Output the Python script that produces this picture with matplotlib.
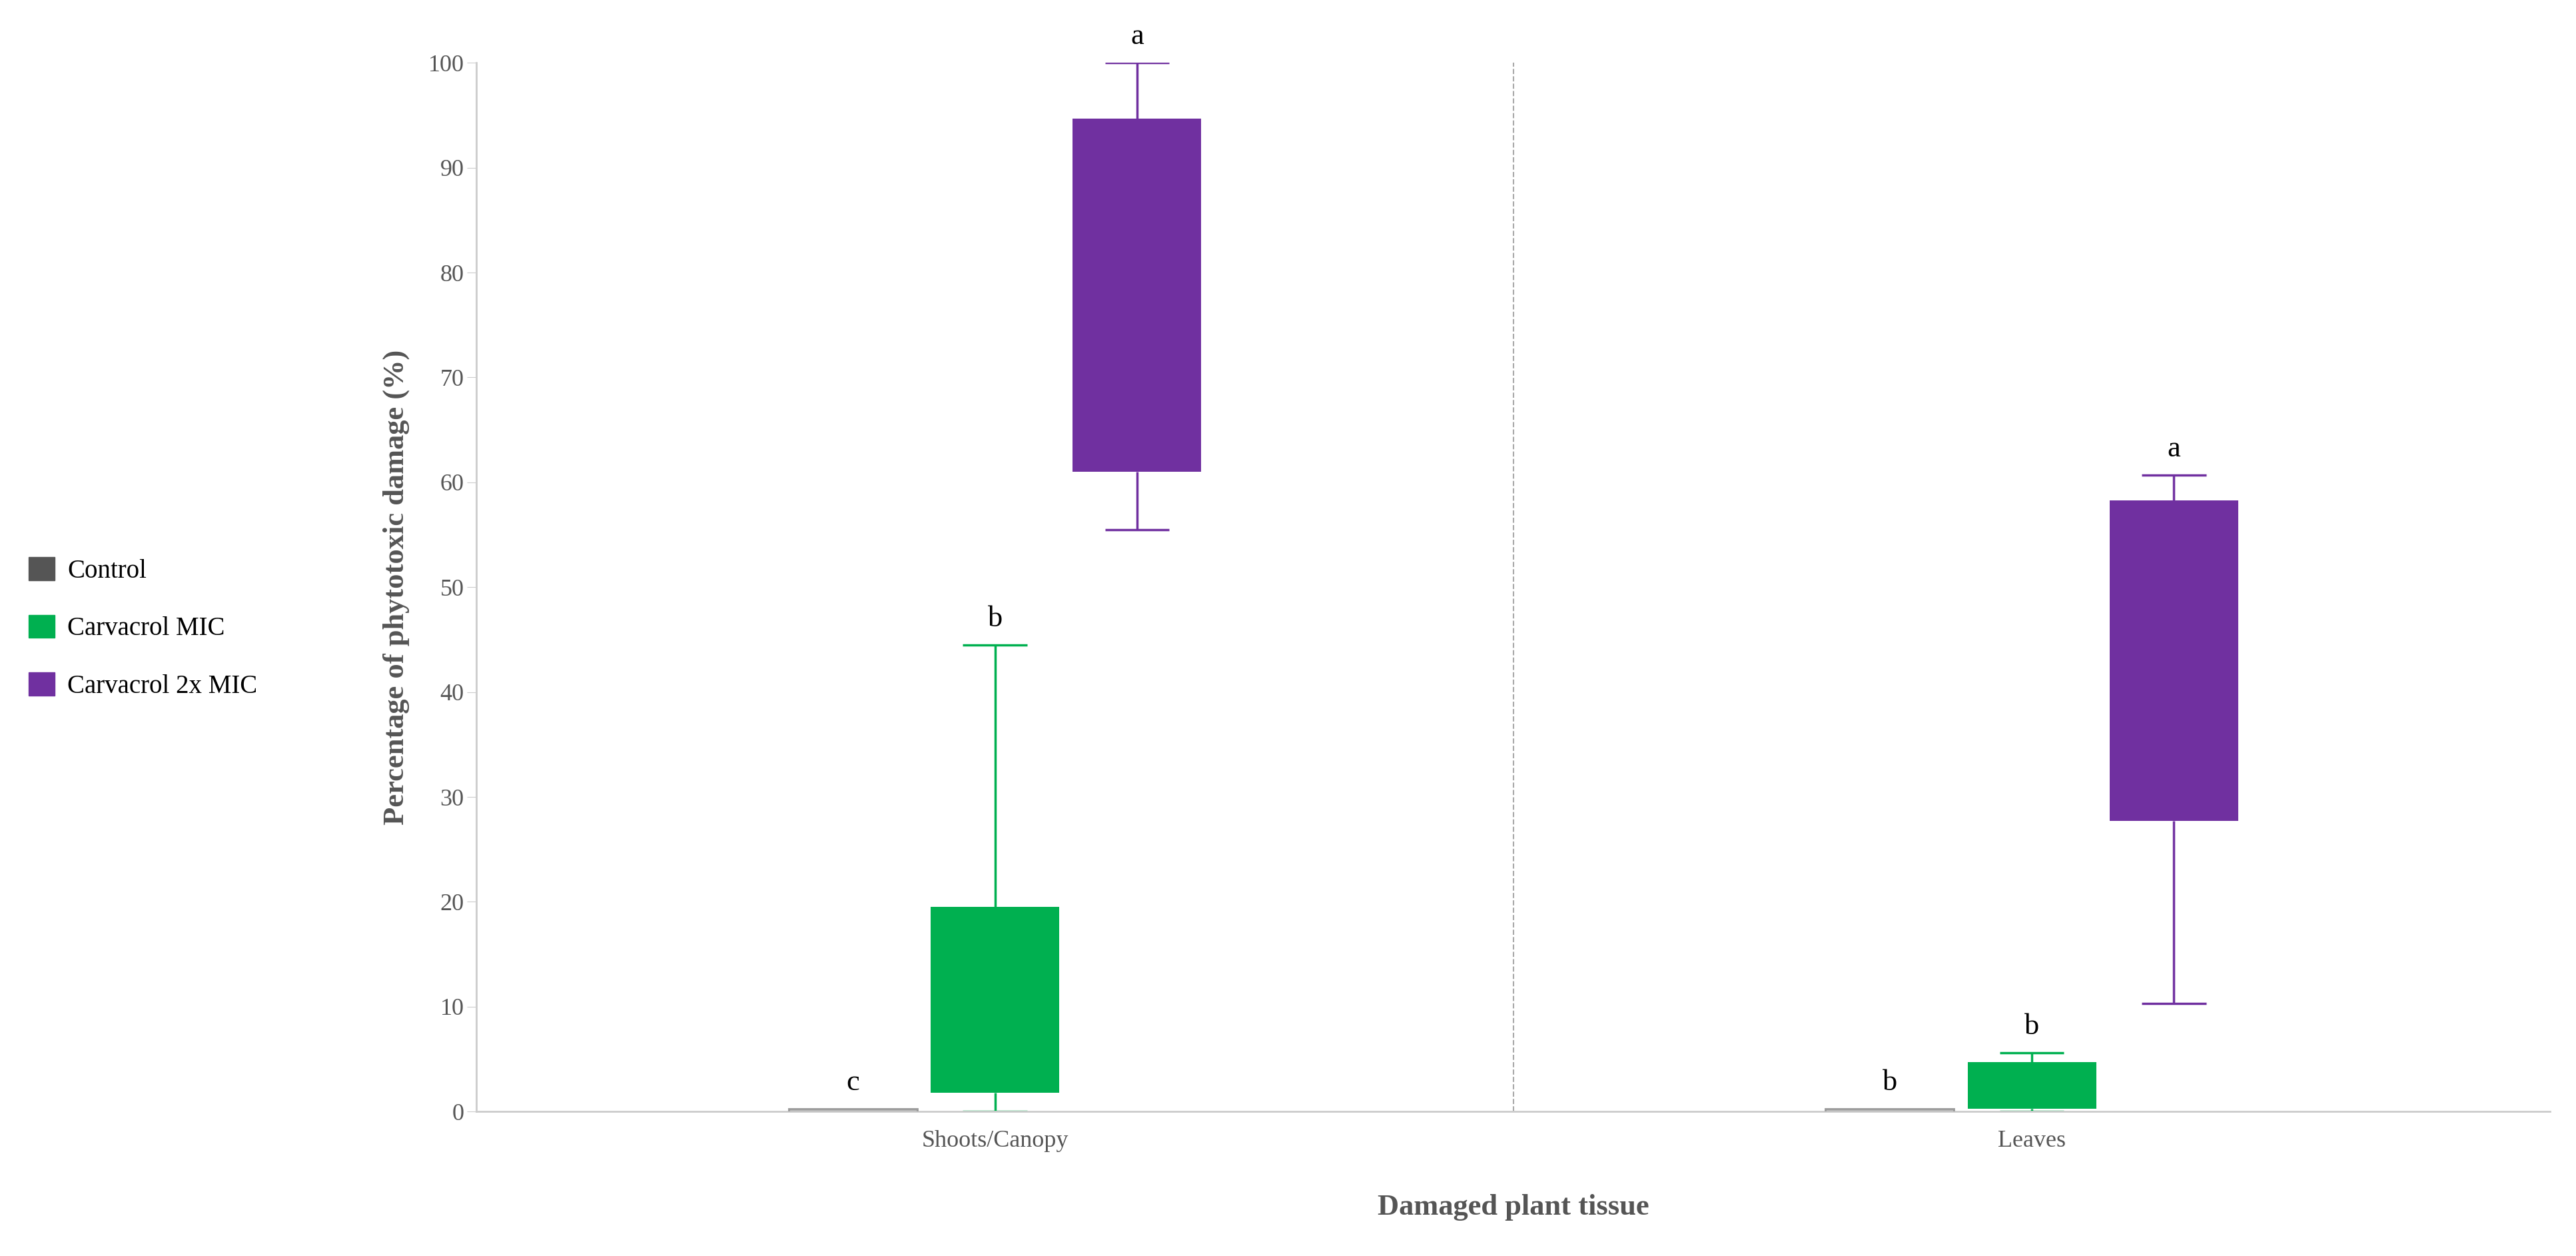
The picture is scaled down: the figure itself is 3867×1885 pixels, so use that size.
import matplotlib.pyplot as plt
from matplotlib.patches import Patch

plt.rcParams['font.family'] = ['Liberation Serif', 'DejaVu Serif']

tissues = ['Shoots/Canopy', 'Leaves']
groups = ['Control', 'Carvacrol MIC', 'Carvacrol 2x MIC']
colors = ['#555555', '#00b050', '#7030a0']
# per group: [lower whisker, q1, q3, upper whisker] for each tissue
control = [[0, 0, 0.3, 0], [0, 0, 0.3, 0]]
mic = [[0, 1.8, 19.5, 44.5], [0, 0.3, 4.7, 5.6]]
mic2x = [[55.5, 61, 94.7, 100], [10.3, 27.7, 58.3, 60.7]]
letters = [['c', 'b', 'a'], ['b', 'b', 'a']]

fig = plt.figure(figsize=(38.67, 18.85), dpi=100)
ax = fig.add_axes([0.185, 0.115, 0.805, 0.835])

offsets = [-0.137, 0, 0.137]
width = 0.124
for gi, data in enumerate([control, mic, mic2x]):
    for ti, (lo, q1, q3, hi) in enumerate(data):
        x = ti + offsets[gi]
        if gi == 0:
            ax.bar(x, 0.35, width, bottom=-0.05, color='#bbbbbb', edgecolor='#999999', lw=2, zorder=3)
            top = 0.3
        else:
            ax.bar(x, q3 - q1, width, bottom=q1, color=colors[gi], zorder=3)
            ax.vlines(x, hi, q3, color=colors[gi], lw=2.5, zorder=2)
            ax.vlines(x, lo, q1, color=colors[gi], lw=2.5, zorder=2)
            ax.hlines([hi, lo], x - width / 4, x + width / 4, color=colors[gi], lw=2.5, zorder=2)
            top = hi
        ax.text(x, top + 1.2, letters[ti][gi], ha='center', va='bottom', fontsize=32)

ax.axvline(0.5, color='#aaaaaa', ls='--', lw=1.5)
ax.set_xlim(-0.5, 1.5)
ax.set_ylim(0, 100)
ax.set_yticks(range(0, 101, 10))
ax.set_xticks([0, 1])
ax.set_xticklabels(tissues)
ax.tick_params(labelsize=26, colors='#555555', length=10, color='#cccccc')
ax.tick_params(axis='x', length=0, pad=20)
for s in ['top', 'right']:
    ax.spines[s].set_visible(False)
for s in ['left', 'bottom']:
    ax.spines[s].set_color('#cccccc')
    ax.spines[s].set_linewidth(2)
ax.set_ylabel('Percentage of phytotoxic damage (%)', fontsize=32, fontweight='bold', color='#555555', labelpad=20)
ax.set_xlabel('Damaged plant tissue', fontsize=32, fontweight='bold', color='#555555', labelpad=45)

handles = [Patch(color=c) for c in colors]
fig.legend(handles, groups, loc='center left', bbox_to_anchor=(0.002, 0.5), frameon=False,
           fontsize=28, handlelength=1, handleheight=1, labelspacing=1.2, handletextpad=0.5)

fig.savefig('out.png', dpi=100)
